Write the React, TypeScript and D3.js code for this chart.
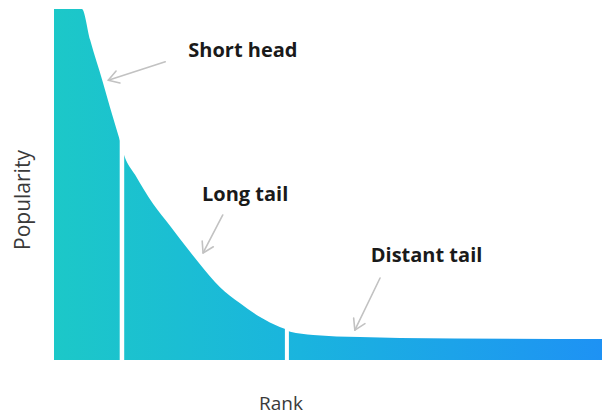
import React, { useEffect, useRef } from "react";
import * as d3 from "d3";

// curve (rank 0..100, popularity 0..100)
const ranks = [0, 5.1, 6.6, 8.9, 10.2, 12.0, 12.8, 14.8, 18.1, 21.2, 23.0, 26.6, 30.3, 33.9, 37.6, 41.2, 42.2, 43.1, 47.3, 55.8, 63.1, 100];
const popularity = [99.7, 99.7, 90.9, 79.0, 71.9, 62.5, 58.2, 52.6, 44.3, 38.1, 34.4, 27.3, 20.7, 16.2, 12.2, 9.4, 8.8, 8.0, 7.1, 6.5, 6.25, 6.0];

// where the white gaps split the segments
const dividers = [12.4, 42.5];
const dividerWidths = [4.5, 4];

// labels + arrows (tail -> tip)
const labels = ["Short head", "Long tail", "Distant tail"];
const labelRank = [24.5, 27.0, 57.8];
const labelPop = [86.1, 45.2, 27.8];
const arrowFrom = [[20.3, 84.7], [30.8, 41.2], [59.5, 23.3]];
const arrowTo = [[9.9, 79.5], [27.2, 30.4], [54.9, 8.5]];

const W = 603;
const H = 416;

export default function App() {
  const ref = useRef<SVGSVGElement>(null);

  useEffect(() => {
    const svg = d3.select(ref.current);
    svg.selectAll("*").remove();

    const x = d3.scaleLinear().domain([0, 100]).range([54, 602]);
    const y = d3.scaleLinear().domain([0, 100]).range([360, 8]);

    const defs = svg.append("defs");
    const grad = defs.append("linearGradient")
      .attr("id", "tailGrad")
      .attr("gradientUnits", "userSpaceOnUse")
      .attr("x1", x(0)).attr("x2", x(100))
      .attr("y1", 0).attr("y2", 0);
    grad.append("stop").attr("offset", "0%").attr("stop-color", "#1cc8c8");
    grad.append("stop").attr("offset", "45%").attr("stop-color", "#1ab4de");
    grad.append("stop").attr("offset", "100%").attr("stop-color", "#1e92f4");

    const pts = ranks.map((r, i) => [r, popularity[i]] as [number, number]);
    const area = d3.area<[number, number]>()
      .x(d => x(d[0]))
      .y0(y(0))
      .y1(d => y(d[1]))
      .curve(d3.curveMonotoneX);

    svg.append("path")
      .attr("d", area(pts))
      .attr("fill", "url(#tailGrad)");

    // white gaps
    dividers.forEach((dv, i) => {
      svg.append("rect")
        .attr("x", x(dv) - dividerWidths[i] / 2)
        .attr("y", y(100))
        .attr("width", dividerWidths[i])
        .attr("height", y(0) - y(100))
        .attr("fill", "#fff");
    });

    // arrows
    const arrowColor = "#c2c2c2";
    arrowFrom.forEach((f, i) => {
      const t = arrowTo[i];
      const x1 = x(f[0]), y1 = y(f[1]), x2 = x(t[0]), y2 = y(t[1]);
      svg.append("line")
        .attr("x1", x1).attr("y1", y1).attr("x2", x2).attr("y2", y2)
        .attr("stroke", arrowColor).attr("stroke-width", 1.6)
        .attr("stroke-linecap", "round");
      const ang = Math.atan2(y1 - y2, x1 - x2);
      const len = 12, spread = 0.55;
      const p = [ang - spread, ang + spread].map(a => [x2 + len * Math.cos(a), y2 + len * Math.sin(a)]);
      svg.append("path")
        .attr("d", `M${p[0][0]},${p[0][1]}L${x2},${y2}L${p[1][0]},${p[1][1]}`)
        .attr("fill", "none")
        .attr("stroke", arrowColor).attr("stroke-width", 1.6)
        .attr("stroke-linecap", "round").attr("stroke-linejoin", "round");
    });

    // labels
    labels.forEach((l, i) => {
      svg.append("text")
        .attr("x", x(labelRank[i]))
        .attr("y", y(labelPop[i]))
        .attr("font-family", "'Open Sans', sans-serif")
        .attr("font-weight", "bold")
        .attr("font-size", 20)
        .attr("fill", "#1a1a1a")
        .text(l);
    });

    // axis titles
    svg.append("text")
      .attr("transform", `translate(30,200) rotate(-90)`)
      .attr("text-anchor", "middle")
      .attr("font-family", "'Open Sans', sans-serif")
      .attr("font-size", 21)
      .attr("fill", "#3a3a3a")
      .text("Popularity");

    svg.append("text")
      .attr("x", 281)
      .attr("y", 410)
      .attr("text-anchor", "middle")
      .attr("font-family", "'Open Sans', sans-serif")
      .attr("font-size", 19)
      .attr("fill", "#3a3a3a")
      .text("Rank");
  }, []);

  return (
    <svg ref={ref} width={W} height={H}
      style={{ position: "absolute", left: 0, top: 0, background: "#fff" }} />
  );
}
